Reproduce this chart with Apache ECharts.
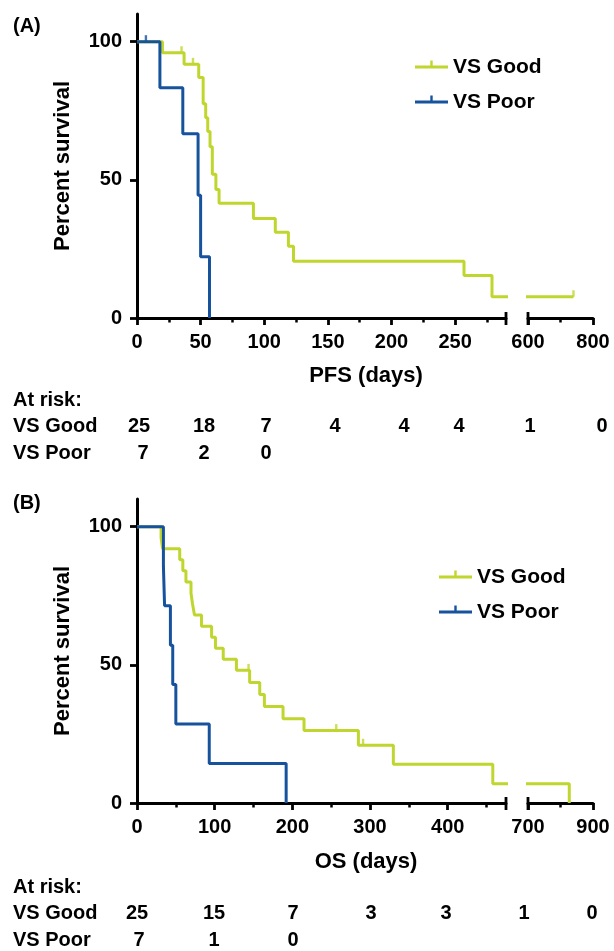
<!DOCTYPE html>
<html><head><meta charset="utf-8">
<script src="https://cdn.jsdelivr.net/npm/echarts@6/dist/echarts.min.js"></script>
<style>html,body{margin:0;padding:0;background:#fff}#c{width:614px;height:951px}</style>
</head><body><div id="c"></div>
<script>
// ---------- DATA ----------
// Panel A: PFS (days)
const pfsGoodTimes = [0, 20, 37, 48.5, 52, 54, 55.6, 57.4, 59.2, 62, 64.5, 91.5, 108.7, 119, 123, 257, 279, 740];
const pfsGoodSurv  = [100, 96, 91.8, 87, 77.5, 72.5, 67.5, 62, 52, 46.5, 41.5, 36, 31, 26, 20.5, 15.4, 7.7, 7.7];
const pfsGoodCensor = [35, 44, 740];
const pfsPoorTimes = [0, 18, 36, 48, 50, 57];
const pfsPoorSurv  = [100, 83.3, 66.7, 44.4, 22.2, 0];
const pfsPoorCensor = [7];
// Panel B: OS (days)
const osGoodTimes = [0, 31, 33, 55, 59, 63, 69.5, 71.5, 74, 83, 96, 101, 111, 128, 145, 158, 164, 188, 215, 285, 330, 458, 827];
const osGoodSurv  = [100, 96, 92, 88, 84, 80, 76, 72, 68, 64, 60, 56, 52, 48, 43.6, 39.3, 34.9, 30.5, 26.2, 20.9, 14, 7, 0];
const osGoodCensor = [143.6, 256.5, 291];
const osPoorTimes = [0, 34, 35.5, 43, 46, 50, 93, 192];
const osPoorSurv  = [100, 85.7, 71.4, 57.1, 42.9, 28.6, 14.3, 0];
const osPoorCensor = [];
// Tick labels
const pfsTicksLeft = [0, 50, 100, 150, 200, 250];
const pfsMinorLeft = [25, 75, 125, 175, 225, 275];
const pfsTicksRight = [600, 800];
const pfsMinorRight = [700];
const osTicksLeft = [0, 100, 200, 300, 400];
const osMinorLeft = [50, 150, 250, 350, 450];
const osTicksRight = [700, 900];
const osMinorRight = [800];
const yTicks = [0, 50, 100];
// At-risk tables
const pfsRiskGood = [25, 18, 7, 4, 4, 4, 1, 0];
const pfsRiskPoor = [7, 2, 0];
const osRiskGood = [25, 15, 7, 3, 3, 1, 0];
const osRiskPoor = [7, 1, 0];
const groupNames = ['VS Good', 'VS Poor'];

// ---------- LAYOUT ----------
const GREEN = '#c0d62e', BLUE = '#17539d';
const FONT = '"Liberation Sans", Arial, Helvetica, sans-serif';
const pfsRiskX = [139, 204, 266, 335, 404, 459, 530, 602];
const osRiskX = [137, 214, 293, 371, 446, 524, 592];
const panels = [
  {top: 14, axisY: 318, tLeft: [0, 290], tRight: [600, 800]},
  {top: 499, axisY: 803, tLeft: [0, 475], tRight: [700, 900]}
];
const GH = 304;

function survAt(T, S, t) { let v = S[0]; for (let i = 0; i < T.length; i++) if (T[i] <= t) v = S[i]; return v; }

const grids = [], xAxes = [], yAxes = [];
panels.forEach(p => {
  grids.push({left: 137, top: p.top, width: 369, height: GH});
  grids.push({left: 528, top: p.top, width: 65, height: GH});
});
const axLine = {show: true, lineStyle: {color: '#000', width: 3}};
const lbl = {color: '#000', fontSize: 20, fontWeight: 'bold', fontFamily: FONT};
function majorX(gi, range, ticks) {
  return {type: 'value', gridIndex: gi, min: range[0], max: range[1], position: 'bottom',
    axisLine: axLine, splitLine: {show: false},
    axisTick: {show: true, customValues: ticks, length: 7, lineStyle: {color: '#000', width: 2.8}},
    axisLabel: Object.assign({customValues: ticks, margin: 14}, lbl)};
}
function minorX(gi, range, ticks) {
  return {type: 'value', gridIndex: gi, min: range[0], max: range[1], position: 'bottom',
    axisLine: {show: false}, splitLine: {show: false},
    axisTick: {show: true, customValues: ticks, length: 4.5, lineStyle: {color: '#000', width: 2.5}},
    axisLabel: {show: false}};
}
xAxes.push(majorX(0, panels[0].tLeft, pfsTicksLeft), minorX(0, panels[0].tLeft, pfsMinorLeft));
xAxes.push(majorX(1, panels[0].tRight, pfsTicksRight), minorX(1, panels[0].tRight, pfsMinorRight));
xAxes.push(majorX(2, panels[1].tLeft, osTicksLeft), minorX(2, panels[1].tLeft, osMinorLeft));
xAxes.push(majorX(3, panels[1].tRight, osTicksRight), minorX(3, panels[1].tRight, osMinorRight));
[0, 1, 2, 3].forEach(gi => {
  const main = gi % 2 === 0;
  yAxes.push({type: 'value', gridIndex: gi, min: 0, max: 110, show: main,
    name: main ? 'Percent survival' : '', nameLocation: 'middle', nameGap: 63,
    nameTextStyle: {color: '#000', fontSize: 22, fontWeight: 'bold', fontFamily: FONT},
    axisLine: axLine, splitLine: {show: false},
    axisTick: {show: true, customValues: yTicks, length: 7, lineStyle: {color: '#000', width: 2.8}},
    axisLabel: Object.assign({customValues: yTicks, margin: 15}, lbl)});
});

const series = [];
function addKM(name, T, S, C, color, panel) {
  const data = T.map((t, i) => [t, S[i]]);
  const cens = C.map(t => [t, survAt(T, S, t)]);
  [0, 1].forEach(side => {
    const xi = panel * 4 + side * 2, yi = panel * 2 + side;
    series.push({type: 'line', name, xAxisIndex: xi, yAxisIndex: yi, data, step: 'end',
      symbol: 'none', clip: true, lineStyle: {color, width: 3}, itemStyle: {color}, z: name === 'VS Poor' ? 4 : 3});
    series.push({type: 'scatter', name: name + ' censored', xAxisIndex: xi, yAxisIndex: yi, data: cens,
      symbol: 'rect', symbolSize: [2.4, 6.5], symbolOffset: [0, -3.2], clip: true, itemStyle: {color}, z: 5});
  });
}
addKM(groupNames[0], pfsGoodTimes, pfsGoodSurv, pfsGoodCensor, GREEN, 0);
addKM(groupNames[1], pfsPoorTimes, pfsPoorSurv, pfsPoorCensor, BLUE, 0);
addKM(groupNames[0], osGoodTimes, osGoodSurv, osGoodCensor, GREEN, 1);
addKM(groupNames[1], osPoorTimes, osPoorSurv, osPoorCensor, BLUE, 1);

const ICON = 'path://M0,5 L33,5 L33,8 L0,8 Z M15.3,0 L17.7,0 L17.7,5 L15.3,5 Z M0,13 L0.01,13 L0,13 Z';
function legend(left, top, gap) {
  return {orient: 'vertical', left, top, padding: 0, itemGap: gap, itemWidth: 33, itemHeight: 13,
    selectedMode: false, itemStyle: {borderWidth: 0},
    textStyle: {color: '#000', fontSize: 21, fontWeight: 'bold', fontFamily: FONT, lineHeight: 24},
    data: groupNames.map(n => ({name: n, icon: ICON}))};
}

const graphic = [];
function txt(text, x, y, size, align) {
  graphic.push({type: 'text', x, y, silent: true,
    style: {text, fill: '#000', fontSize: size, fontWeight: 'bold', fontFamily: FONT,
      align: align || 'center', verticalAlign: 'middle'}});
}
function bar(x, y1, y2) {
  graphic.push({type: 'line', silent: true, shape: {x1: x, y1, x2: x, y2}, style: {stroke: '#000', lineWidth: 2.8}});
}
// panel A
txt('(A)', 13, 26, 20, 'left');
txt('PFS (days)', 366, 376, 22);
txt('At risk:', 13, 400, 20, 'left');
txt('VS Good', 13, 426, 20, 'left');
txt('VS Poor', 13, 453, 20, 'left');
pfsRiskGood.forEach((v, i) => txt(String(v), pfsRiskX[i], 426, 20));
pfsRiskPoor.forEach((v, i) => txt(String(v), pfsRiskX[i] + (i === 0 ? 4 : 0), 453, 20));
bar(506, 312, 325); bar(528, 312, 325);
// panel B
txt('(B)', 13, 503, 20, 'left');
txt('OS (days)', 366, 862, 22);
txt('At risk:', 13, 887, 20, 'left');
txt('VS Good', 13, 913, 20, 'left');
txt('VS Poor', 13, 940, 20, 'left');
osRiskGood.forEach((v, i) => txt(String(v), osRiskX[i], 913, 20));
osRiskPoor.forEach((v, i) => txt(String(v), osRiskX[i] + (i === 0 ? 2 : 0), 940, 20));
bar(506, 797, 810); bar(528, 797, 810);

const chart = echarts.init(document.getElementById('c'), null, {renderer: 'canvas'});
chart.setOption({
  animation: false,
  backgroundColor: '#fff',
  grid: grids, xAxis: xAxes, yAxis: yAxes, series,
  legend: [legend(415, 55, 11), legend(439, 565, 11)],
  graphic
});
</script></body></html>
